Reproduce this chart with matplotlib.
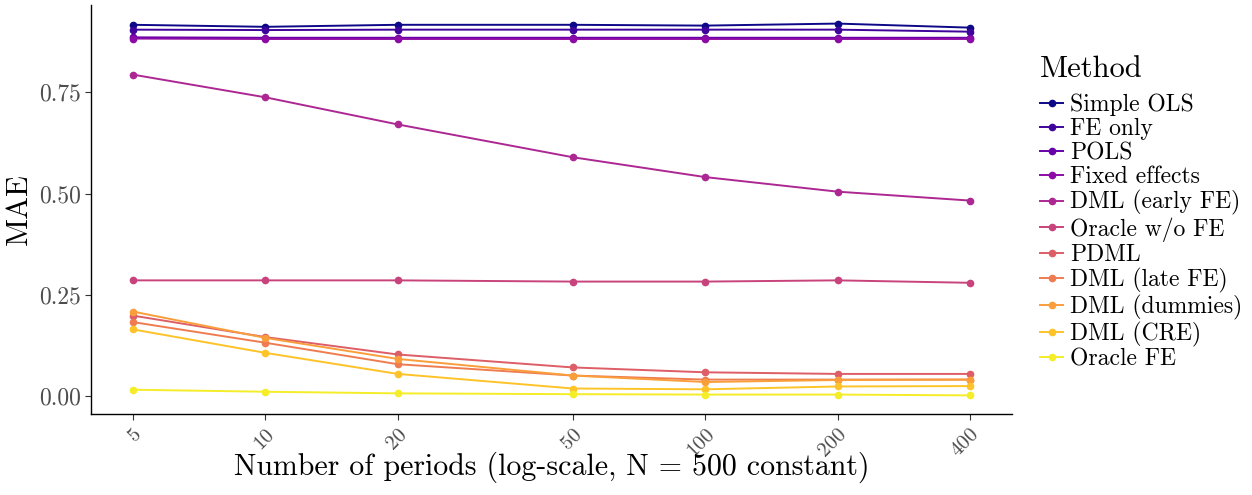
import numpy as np
import matplotlib
matplotlib.use("Agg")
import matplotlib.pyplot as plt

periods = [5, 10, 20, 50, 100, 200, 400]
methods = ["Simple OLS", "FE only", "POLS", "Fixed effects", "DML (early FE)",
           "Oracle w/o FE", "PDML", "DML (late FE)", "DML (dummies)",
           "DML (CRE)", "Oracle FE"]

simple_ols = [0.917, 0.912, 0.917, 0.917, 0.915, 0.920, 0.910]
fe_only = [0.905, 0.904, 0.905, 0.905, 0.905, 0.905, 0.900]
pols = [0.886, 0.885, 0.885, 0.885, 0.885, 0.885, 0.885]
fixed_effects = [0.883, 0.882, 0.882, 0.882, 0.882, 0.882, 0.882]
dml_early = [0.794, 0.738, 0.671, 0.590, 0.541, 0.505, 0.483]
oracle_wo_fe = [0.286, 0.286, 0.286, 0.283, 0.283, 0.286, 0.280]
pdml = [0.199, 0.146, 0.103, 0.071, 0.059, 0.055, 0.055]
dml_late = [0.183, 0.132, 0.079, 0.051, 0.041, 0.041, 0.041]
dml_dummies = [0.209, 0.144, 0.092, 0.051, 0.035, 0.040, 0.041]
dml_cre = [0.165, 0.107, 0.055, 0.019, 0.017, 0.024, 0.025]
oracle_fe = [0.016, 0.011, 0.007, 0.005, 0.004, 0.004, 0.002]

series = [simple_ols, fe_only, pols, fixed_effects, dml_early, oracle_wo_fe,
          pdml, dml_late, dml_dummies, dml_cre, oracle_fe]

plt.rcParams['font.family'] = ['cmr10', 'DejaVu Serif']
plt.rcParams['mathtext.fontset'] = 'cm'
plt.rcParams['axes.unicode_minus'] = False

colors = plt.cm.plasma(np.linspace(0, 0.97, len(methods)))

fig = plt.figure(figsize=(12.52, 4.95), dpi=100)
ax = fig.add_axes([0.0727, 0.1636, 0.7355, 0.8264])

for name, vals, c in zip(methods, series, colors):
    ax.plot(periods, vals, color=c, lw=1.4, marker='o', ms=4.5, label=name)

ax.set_xscale('log')
lo, hi = np.log10(5), np.log10(400)
pad = (hi - lo) * 0.05
ax.set_xlim(10 ** (lo - pad), 10 ** (hi + pad))
ax.set_ylim(-0.044, 0.966)
ax.set_xticks(periods)
ax.set_xticklabels([str(p) for p in periods], rotation=45, ha='right',
                   va='top', rotation_mode='anchor')
ax.minorticks_off()
ax.set_yticks([0, 0.25, 0.5, 0.75])
ax.set_yticklabels(["0.00", "0.25", "0.50", "0.75"])
ax.tick_params(colors='#333333', length=4, width=0.8)
ax.tick_params(axis='x', labelcolor='#4d4d4d', labelsize=15, pad=4)
ax.tick_params(axis='y', labelcolor='#4d4d4d', labelsize=17)
for s in ['top', 'right']:
    ax.spines[s].set_visible(False)
for s in ['left', 'bottom']:
    ax.spines[s].set_linewidth(1.0)

ax.set_xlabel("Number of periods (log-scale, N = 500 constant)", fontsize=21.5)
ax.xaxis.set_label_coords(0.5, -0.093)
ax.set_ylabel("MAE", fontsize=22)

leg = ax.legend(title="Method", loc='upper left', bbox_to_anchor=(1.02, 0.90),
                frameon=False, fontsize=17, title_fontsize=22, handlelength=1.0,
                handletextpad=0.3, labelspacing=0.08, borderaxespad=0)
leg._legend_box.align = 'left'
leg._legend_box.sep = 8

fig.savefig("out.png", dpi=100)
